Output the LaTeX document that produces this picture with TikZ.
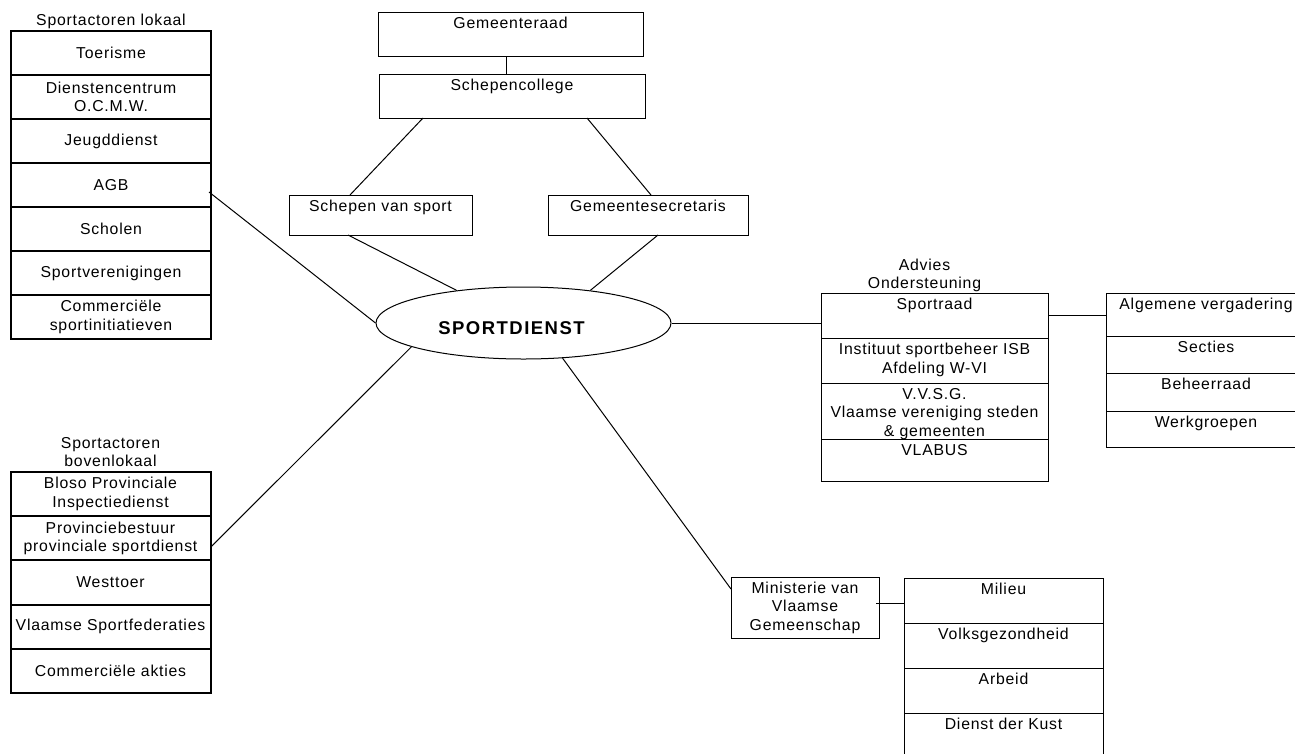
\documentclass[tikz,border=0pt]{standalone}
\usepackage{fontspec}
\setmainfont{Liberation Sans}[LetterSpace=5]
\usetikzlibrary{positioning,shapes.geometric,calc}

\begin{document}
\begin{tikzpicture}[x=1pt,y=1pt,yscale=-1,xscale=1,
  every node/.style={font=\fontsize{15.8}{18.5}\selectfont},
  lcell/.style={draw,line width=2pt,minimum width=200pt,minimum height=44pt,inner sep=0pt,outer sep=0pt,align=center},
  lcellb/.style={lcell,minimum height=44.2pt},
  cell/.style={draw,line width=1pt,inner sep=0pt,outer sep=0pt},
  celltext/.style={anchor=north,inner xsep=0pt,inner ysep=5pt,align=center},
  caption/.style={anchor=south,inner sep=0pt,align=center},
  link/.style={line width=1pt}]
\useasboundingbox (0,0) rectangle (1295,753);
\clip (0,0) rectangle (1295,753);

%Flowchart: Process (lokaal)
\node[lcell] (toerisme) at (111,53) {Toerisme};
\node[lcell,below=0pt of toerisme] (ocmw) {Dienstencentrum\\O.C.M.W.};
\node[lcell,below=0pt of ocmw] (jeugd) {Jeugddienst};
\node[lcell,below=0pt of jeugd] (agb) {AGB};
\node[lcell,below=0pt of agb] (scholen) {Scholen};
\node[lcell,below=0pt of scholen] (verenig) {Sportverenigingen};
\node[lcell,below=0pt of verenig] (cominit) {Commerciële\\sportinitiatieven};
% Text Node
\node[caption] (lokaal) at ($(toerisme.north)+(0,-2)$) {Sportactoren lokaal};

%Flowchart: Process (bovenlokaal)
\node[lcellb] (bloso) at (110.5,494.1) {Bloso Provinciale\\Inspectiedienst};
\node[lcellb,below=0pt of bloso] (provbest) {Provinciebestuur\\provinciale sportdienst};
\node[lcellb,below=0pt of provbest] (westtoer) {Westtoer};
\node[lcellb,below=0pt of westtoer] (federaties) {Vlaamse Sportfederaties};
\node[lcellb,below=0pt of federaties] (comakties) {Commerciële akties};
% Text Node
\node[caption] (bovenlokaal) at ($(bloso.north)+(0,-5)$) {Sportactoren\\bovenlokaal};

%Flowchart: Process (gemeente)
\node[cell,minimum width=265pt,minimum height=44pt] (gemraad) at (510.5,34) {};
\node[celltext] (gemraad-t) at (gemraad.north) {Gemeenteraad};
\node[cell,minimum width=266pt,minimum height=44pt] (schepcol) at (512,96) {};
\node[celltext] (schepcol-t) at (schepcol.north) {Schepencollege};
\node[cell,minimum width=183pt,minimum height=40pt] (schepen) at (380.5,215) {};
\node[celltext] (schepen-t) at (schepen.north) {Schepen van sport};
\node[cell,minimum width=200pt,minimum height=40pt] (secretaris) at (648,215) {};
\node[celltext] (secretaris-t) at (secretaris.north) {Gemeentesecretaris};

%Flowchart: Ellipse
\node[ellipse,draw,line width=1pt,minimum width=295pt,minimum height=72pt,inner sep=0pt] (sd) at (523.5,323) {};
% Text Node
\node[font=\fontsize{18.5}{22}\selectfont\bfseries\addfontfeatures{LetterSpace=8}] (sd-t) at ($(sd.center)+(-12,5)$) {SPORTDIENST};

%Flowchart: Process (advies)
\node[cell,minimum width=227pt,minimum height=45pt] (sportraad) at (934.5,315.5) {};
\node[celltext] (sportraad-t) at (sportraad.north) {Sportraad};
\node[cell,minimum width=227pt,minimum height=45pt,below=0pt of sportraad] (isb) {};
\node[celltext] (isb-t) at (isb.north) {Instituut sportbeheer ISB\\Afdeling W-VI};
\node[cell,minimum width=227pt,minimum height=56pt,below=0pt of isb] (vvsg) {};
\node[celltext] (vvsg-t) at (vvsg.north) {V.V.S.G.\\Vlaamse vereniging steden\\\& gemeenten};
\node[cell,minimum width=227pt,minimum height=42pt,below=0pt of vvsg] (vlabus) {};
\node[celltext] (vlabus-t) at (vlabus.north) {VLABUS};
% Text Node
\node[caption] (advies) at ($(sportraad.north)+(-10,-1)$) {Advies\\Ondersteuning};

%Flowchart: Process (sportraad)
\node[cell,minimum width=200pt,minimum height=43pt] (algverg) at (1206,314.5) {};
\node[celltext] (algverg-t) at (algverg.north) {Algemene vergadering};
\node[cell,minimum width=200pt,minimum height=37pt,below=0pt of algverg] (secties) {};
\node[celltext] (secties-t) at (secties.north) {Secties};
\node[cell,minimum width=200pt,minimum height=38pt,below=0pt of secties] (beheer) {};
\node[celltext] (beheer-t) at (beheer.north) {Beheerraad};
\node[cell,minimum width=200pt,minimum height=36pt,below=0pt of beheer] (werkgr) {};
\node[celltext] (werkgr-t) at (werkgr.north) {Werkgroepen};

%Flowchart: Process (ministerie)
\node[cell,minimum width=148pt,minimum height=61pt,align=center] (mvg) at (805,607.5) {Ministerie van\\Vlaamse\\Gemeenschap};
\node[cell,minimum width=199pt,minimum height=45pt] (milieu) at (1003.5,600.5) {};
\node[celltext] (milieu-t) at (milieu.north) {Milieu};
\node[cell,minimum width=199pt,minimum height=45pt,below=0pt of milieu] (volks) {};
\node[celltext] (volks-t) at (volks.north) {Volksgezondheid};
\node[cell,minimum width=199pt,minimum height=45pt,below=0pt of volks] (arbeid) {};
\node[celltext] (arbeid-t) at (arbeid.north) {Arbeid};
\node[cell,minimum width=199pt,minimum height=45pt,below=0pt of arbeid] (kust) {};
\node[celltext] (kust-t) at (kust.north) {Dienst der Kust};

%Straight Lines
\draw[link] ($(gemraad.south)+(-4.5,0)$) -- ($(schepcol.north)+(-6,0)$);
\draw[link] ($(schepcol.south)+(-89,0)$) -- ($(schepen.north)+(-30.5,0)$);
\draw[link] ($(schepcol.south)+(75,0)$) -- ($(secretaris.north)+(3,0)$);
\draw[link] ($(schepen.south)+(-32.5,0)$) -- (sd.154);
\draw[link] ($(secretaris.south)+(10,0)$) -- (sd.26);
\draw[link] ($(agb.east)+(-2,7)$) -- (sd.west);
\draw[link] ($(provbest.east)+(1,8)$) -- (sd.192);
\draw[link] (sd.east) -- (sd.east -| sportraad.west);
\draw[link] (sportraad.east) -- (sportraad.east -| algverg.west);
\draw[link] (sd.318.5) -- ($(mvg.north west)+(0,12)$);
\coordinate (mvgjoin) at ($(mvg.east)+(-3,-4.5)$);
\draw[link] (mvgjoin) -- (mvgjoin -| milieu.west);

\end{tikzpicture}
\end{document}
